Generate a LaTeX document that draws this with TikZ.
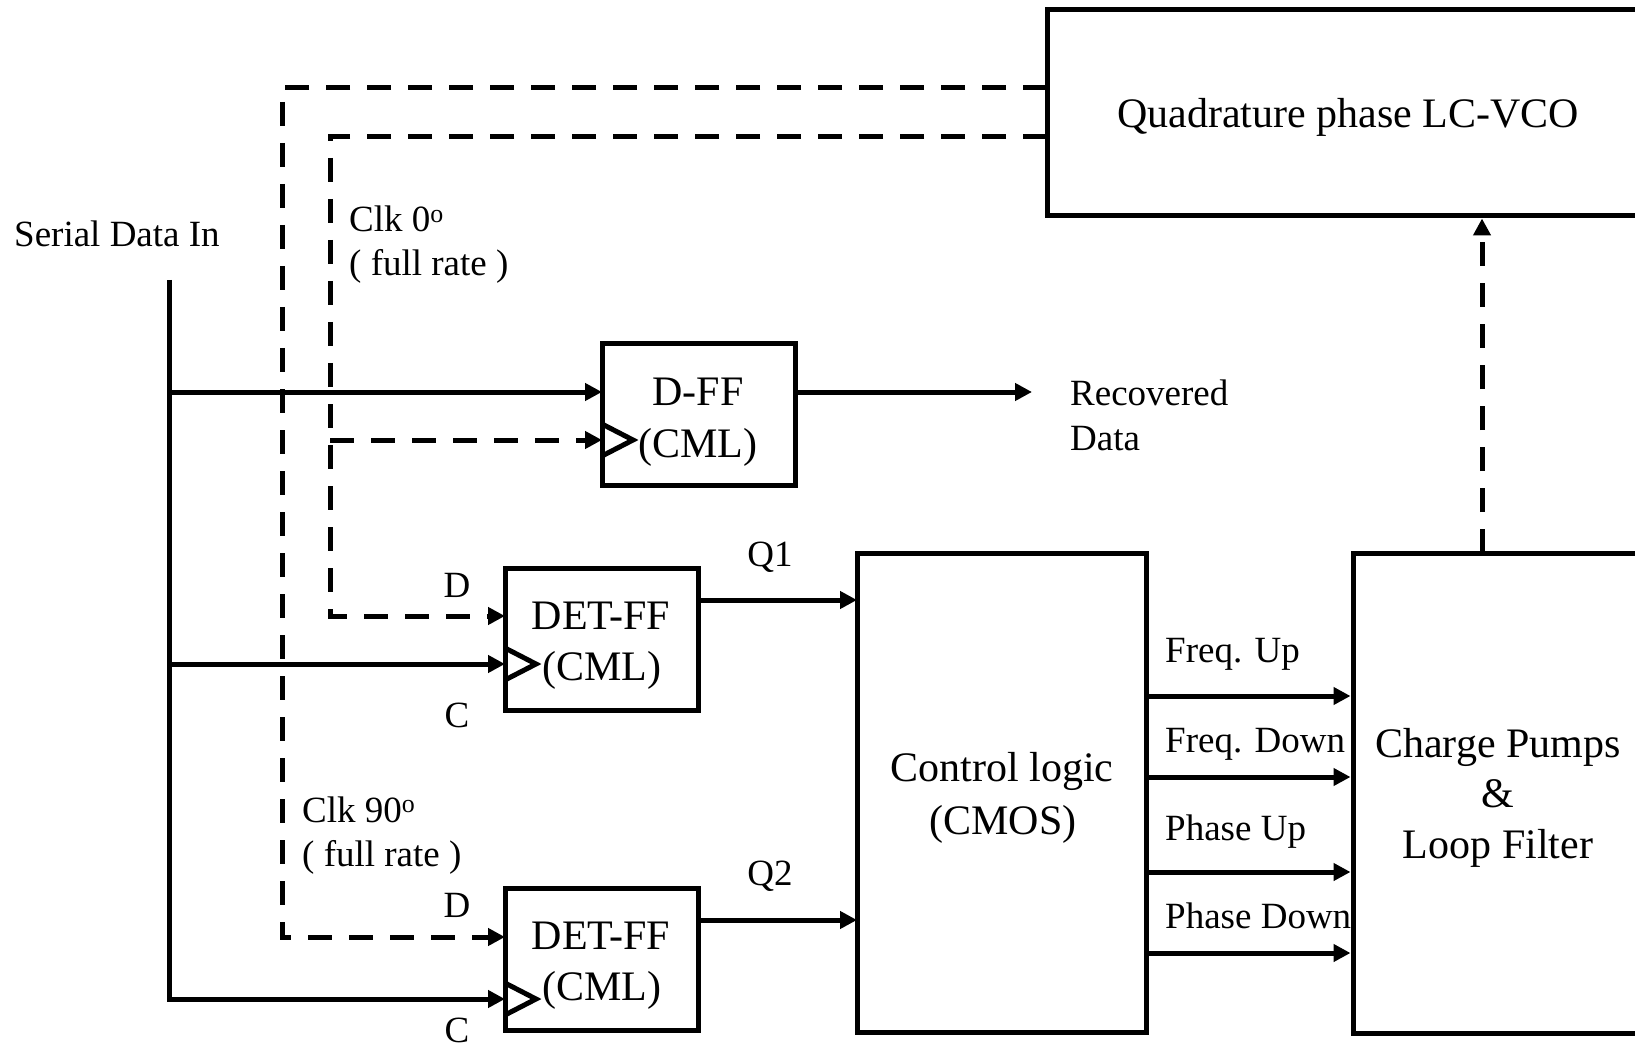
\documentclass[tikz,border=0pt]{standalone}
\usepackage{fontspec}
\setmainfont{Liberation Serif}
\usetikzlibrary{arrows.meta}
\tikzset{%
	blk/.style={draw, line width=5pt, minimum width=193pt, minimum height=142pt, inner sep=0pt},
	big/.style={font=\fontsize{42}{50}\selectfont, anchor=base, inner sep=0pt},
	lbl/.style={font=\fontsize{37}{44}\selectfont, anchor=base west, inner sep=0pt},
	wire/.style={line width=5pt},
	arrow/.style={wire, -{Triangle[length=17pt,width=17pt]}},
	dasharrow/.style={arrow, dash pattern=on 24pt off 17pt}}

\begin{document}
\begin{tikzpicture}[x=1pt, y=-1pt]
		\useasboundingbox (0,0) rectangle (1635,1048);
		\clip (0,0) rectangle (1635,1048);
		% blocks
		\node[blk, minimum width=653pt, minimum height=206pt] (vco) at (1373.5,113) {};
		\node[blk, minimum height=141pt] (dff) at (698.5,414.5) {};
		\node[blk] (det1) at (601.5,639) {};
		\node[blk] (det2) at (601.5,959) {};
		\node[blk, minimum width=289pt, minimum height=479pt] (ctl) at (1001.5,792.5) {};
		\node[blk, minimum width=347pt, minimum height=480pt] (cp) at (1526.5,793) {};
		
		% block texts
		\node[big] (vcot) at (1348,128) {Quadrature phase LC-VCO};
		\node[big] (dfft) at (698,405) {D-FF};
		\node[big] (dffc) at (698,457) {(CML)};
		\node[big] (det1t) at (601,629) {DET-FF};
		\node[big] (det1c) at (602,680) {(CML)};
		\node[big] (det2t) at (601,949) {DET-FF};
		\node[big] (det2c) at (602,1000) {(CML)};
		\node[big] (ctlt) at (1002,781) {Control logic};
		\node[big] (ctlc) at (1003,834) {(CMOS)};
		\node[big] (cpt) at (1498,757) {Charge Pumps};
		\node[big] (cpa) at (1498,807) {\&};
		\node[big] (cpf) at (1498,858) {Loop Filter};
		
		% signal labels
		\node[lbl] (sdi) at (14,247) {Serial Data In};
		\node[lbl] (clk0) at (349,232) {Clk 0\textsuperscript{o}};
		\node[lbl] (clk0r) at (349,276) {( full rate )};
		\node[lbl] (clk90) at (302,822) {Clk 90\textsuperscript{o}};
		\node[lbl] (clk90r) at (302,866) {( full rate )};
		\node[lbl] (rec) at (1070,405) {Recovered};
		\node[lbl] (recd) at (1070,450) {Data};
		\node[lbl, anchor=base] (q1l) at (770,566) {Q1};
		\node[lbl, anchor=base] (q2l) at (770,885) {Q2};
		\node[lbl, anchor=base] (d1l) at (457,597) {D};
		\node[lbl, anchor=base] (c1l) at (457,727) {C};
		\node[lbl, anchor=base] (d2l) at (457,917) {D};
		\node[lbl, anchor=base] (c2l) at (457,1042) {C};
		\node[lbl] (fup) at (1165,662) {Freq. Up};
		\node[lbl] (fdn) at (1165,752) {Freq. Down};
		\node[lbl] (pup) at (1165,840) {Phase Up};
		\node[lbl] (pdn) at (1165,928) {Phase Down};
		
		% pins
		\coordinate (sdtop) at (169,280);
		\coordinate (dd0) at (602,392);
		\coordinate (ck0) at (602,440);
		\coordinate (ck1) at (505,664);
		\coordinate (ck2) at (505,999);
		\coordinate (d1) at (505,616);
		\coordinate (d2) at (505,937);
		\coordinate (v90) at (1047,88);
		\coordinate (v0) at (1047,137);
		\coordinate (bus90) at (282,88);
		\coordinate (bus0) at (330,137);
		\coordinate (recout) at (1032,392);
		\coordinate (q1) at (857,600);
		\coordinate (q2) at (857,920);
		\coordinate (fb) at (1482,553);
		
		\foreach \c in {ck0,ck1,ck2}
			\draw[wire] (\c) ++(0,-16) -- ++(31,16) -- ++(-31,16);
		
		% data in
		\draw[arrow] (sdtop) |- (ck2);
		\path[arrow] (sdtop |- dd0) edge (dd0);
		\path[arrow] (sdtop |- ck1) edge (ck1);
		
		% clocks
		\draw[dasharrow] (v90) -- (bus90) |- (d2);
		\draw[dasharrow] (v0) -- (bus0) |- (d1);
		\path[dasharrow] (bus0 |- ck0) edge (ck0);
		
		% outputs
		\path[arrow] (dff.east |- dd0) edge (recout);
		\path[arrow] (det1.east |- q1) edge (q1);
		\path[arrow] (det2.east |- q2) edge (q2);
		\foreach \y in {696,777,872,953}
			\draw[arrow] (ctl.east |- 0,\y) -- (cp.west |- 0,\y);
		\draw[dasharrow] (fb) -- (fb |- vco.south);
	\end{tikzpicture}
\end{document}
